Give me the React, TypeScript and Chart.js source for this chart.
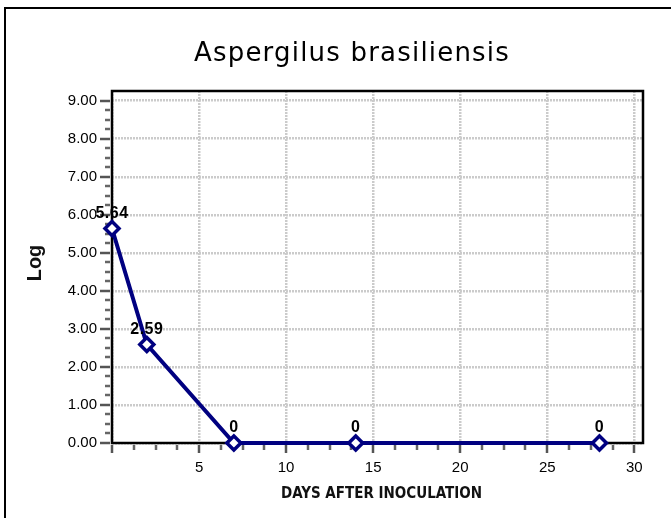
import React, { useEffect, useRef } from "react";
import { Chart, registerables } from "chart.js";

Chart.register(...registerables);

const days = [0, 2, 7, 14, 28];
const logValues = [5.64, 2.59, 0, 0, 0];
const pointLabels = ["5.64", "2.59", "0", "0", "0"];
const xTickValues = [0, 5, 10, 15, 20, 25, 30];
const yTickValues = [0, 1, 2, 3, 4, 5, 6, 7, 8, 9];
const titleText = "Aspergilus brasiliensis";
const xTitle = "DAYS AFTER INOCULATION";
const yTitle = "Log";

const NAVY = "#000080";
const SANS = '"Liberation Sans", Arial, sans-serif';

const decor = {
  id: "decor",
  beforeDatasetsDraw(chart: any) {
    const { ctx, chartArea: a, scales } = chart;
    const x = scales.x;
    const y = scales.y;
    ctx.save();
    ctx.setLineDash([]);
    for (let i = 0; i <= 36; i++) {
      const v = i / 4;
      const major = i % 4 === 0;
      const py = Math.round(y.getPixelForValue(v));
      ctx.strokeStyle = major ? "#555" : "#666";
      ctx.lineWidth = 2.5;
      ctx.beginPath();
      ctx.moveTo(a.left - (major ? 12 : 7), py);
      ctx.lineTo(a.left - 2, py);
      ctx.stroke();
    }
    for (let i = 0; i <= 24; i++) {
      const v = i * 1.25;
      const major = i % 4 === 0;
      const px = Math.round(x.getPixelForValue(v));
      ctx.strokeStyle = major ? "#555" : "#666";
      ctx.lineWidth = 2.5;
      ctx.beginPath();
      ctx.moveTo(px, a.bottom + 2);
      ctx.lineTo(px, a.bottom + (major ? 10 : 7));
      ctx.stroke();
    }
    ctx.strokeStyle = "#000";
    ctx.lineWidth = 2.5;
    ctx.strokeRect(a.left, a.top, a.right - a.left, a.bottom - a.top);
    ctx.restore();
  },
  afterDraw(chart: any) {
    const { ctx, chartArea: a } = chart;
    ctx.save();
    const meta = chart.getDatasetMeta(0);
    ctx.fillStyle = "#000";
    ctx.font = "bold 16px " + SANS;
    ctx.textAlign = "center";
    ctx.textBaseline = "middle";
    (ctx as any).letterSpacing = "0.5px";
    meta.data.forEach((pt: any, i: number) => {
      ctx.fillText(pointLabels[i], pt.x, pt.y - 15);
    });
    (ctx as any).letterSpacing = "1.2px";
    ctx.font = '26px "DejaVu Sans", sans-serif';
    ctx.textBaseline = "alphabetic";
    ctx.fillStyle = "#000";
    ctx.fillText(titleText, 352, 61);
    (ctx as any).letterSpacing = "0px";
    ctx.font = 'bold 15px "DejaVu Sans Condensed", "DejaVu Sans", sans-serif';
    ctx.textBaseline = "middle";
    ctx.fillStyle = "#111";
    ctx.fillText(xTitle, (a.left + a.right) / 2 + 4, 494);
    ctx.translate(35, (a.top + a.bottom) / 2 - 4);
    ctx.rotate(-Math.PI / 2);
    ctx.font = "bold 20px " + SANS;
    ctx.fillText(yTitle, 0, 0);
    ctx.restore();
  },
};

export default function App() {
  const ref = useRef<HTMLCanvasElement | null>(null);

  useEffect(() => {
    if (!ref.current) return;
    const chart = new Chart(ref.current, {
      type: "line",
      data: {
        datasets: [
          {
            data: days.map((d, i) => ({ x: d, y: logValues[i] })),
            borderColor: NAVY,
            borderWidth: 4,
            pointStyle: "rectRot",
            pointRadius: 7,
            pointBorderWidth: 3.5,
            pointBackgroundColor: "#ffffff",
            pointBorderColor: NAVY,
            tension: 0,
            clip: false as any,
          },
        ],
      },
      options: {
        animation: false,
        responsive: false,
        devicePixelRatio: 1,
        layout: { padding: { top: 91, right: 28, bottom: 0, left: 0 } },
        plugins: {
          legend: { display: false },
          tooltip: { enabled: false },
          title: { display: false },
        },
        scales: {
          x: {
            type: "linear",
            min: 0,
            max: 30.5,
            afterBuildTicks: (s: any) => {
              s.ticks = xTickValues.map((v) => ({ value: v }));
            },
            afterFit: (s: any) => {
              s.height = 75;
            },
            ticks: {
              callback: (v: any) => (Number(v) === 0 ? "" : String(v)),
              font: { family: SANS, size: 15 },
              color: "#000",
              padding: 16,
              maxRotation: 0,
              autoSkip: false,
            },
            grid: { color: "#cbcbcb", lineWidth: 2.5, drawTicks: false },
            border: { display: false, dash: [2, 1] },
          },
          y: {
            type: "linear",
            min: 0,
            max: 9.255,
            afterBuildTicks: (s: any) => {
              s.ticks = yTickValues.map((v) => ({ value: v }));
            },
            afterFit: (s: any) => {
              s.width = 112;
            },
            ticks: {
              callback: (v: any) => Number(v).toFixed(2),
              font: { family: SANS, size: 15 },
              color: "#000",
              padding: 15,
              autoSkip: false,
            },
            grid: { color: "#cbcbcb", lineWidth: 2.5, drawTicks: false },
            border: { display: false, dash: [2, 1] },
          },
        },
      },
      plugins: [decor],
    });
    return () => chart.destroy();
  }, []);

  return (
    <div style={{ position: "fixed", left: 0, top: 0, width: 671, height: 518, background: "#fff", overflow: "hidden" }}>
      <div
        style={{
          position: "absolute",
          left: 4,
          top: 7,
          width: 700,
          height: 600,
          borderTop: "2px solid #000",
          borderLeft: "2px solid #000",
        }}
      />
      <canvas ref={ref} width={671} height={518} style={{ position: "absolute", left: 0, top: 0, width: 671, height: 518 }} />
    </div>
  );
}
